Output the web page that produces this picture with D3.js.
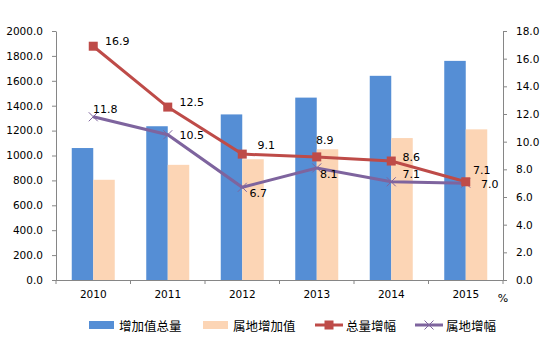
<!DOCTYPE html>
<html><head><meta charset="utf-8">
<script src="https://cdn.jsdelivr.net/npm/d3@7"></script>
<style>
html,body{margin:0;padding:0;background:#fff;}
svg{display:block;}
</style></head>
<body>
<script>
const years = ["2010","2011","2012","2013","2014","2015"];
const totalValue = [1060, 1235, 1330, 1465, 1640, 1760];
const localValue = [805, 925, 970, 1050, 1140, 1210];
const totalGrowth = [16.9, 12.5, 9.1, 8.9, 8.6, 7.1];
const localGrowth = [11.8, 10.5, 6.7, 8.1, 7.1, 7.0];
const leftTicks = [0,200,400,600,800,1000,1200,1400,1600,1800,2000];
const rightTicks = [0,2,4,6,8,10,12,14,16,18];
const seriesNames = ["增加值总量","属地增加值","总量增幅","属地增幅"];
// label offsets (layout only)
const totalLabelOff = [[24,-5],[24,-5],[24,-9],[8,-16],[20,-4],[16,-11]];
const localLabelOff = [[12,-7],[24,1],[16,6],[12,7],[20,-7],[24,1]];

const W=554,H=346;
const m={l:56,r:51,t:31,b:66};
const x0=m.l, x1=W-m.r, y0=m.t, y1=H-m.b;
const blue="#558ED5", peach="#FCD5B5", red="#BE4B48", purple="#7E649E", axisC="#868686";
const font="DejaVu Sans, Verdana, sans-serif";
const cjk="'Noto Sans CJK SC', sans-serif";

const svg=d3.select("body").append("svg").attr("width",W).attr("height",H);
const x=d3.scaleBand().domain(years).range([x0,x1]).paddingInner(0).paddingOuter(0);
const yL=d3.scaleLinear().domain([0,2000]).range([y1,y0]);
const yR=d3.scaleLinear().domain([0,18]).range([y1,y0]);
const bw=21.5;

// bars
svg.append("g").selectAll("rect").data(years).join("rect")
  .attr("x",d=>x(d)+x.bandwidth()/2-bw).attr("width",bw)
  .attr("y",(d,i)=>yL(totalValue[i])).attr("height",(d,i)=>y1-yL(totalValue[i]))
  .attr("fill",blue);
svg.append("g").selectAll("rect").data(years).join("rect")
  .attr("x",d=>x(d)+x.bandwidth()/2).attr("width",bw)
  .attr("y",(d,i)=>yL(localValue[i])).attr("height",(d,i)=>y1-yL(localValue[i]))
  .attr("fill",peach);

// axes
const gL=svg.append("g").attr("transform",`translate(${x0},0)`)
  .call(d3.axisLeft(yL).tickValues(leftTicks).tickFormat(d3.format(".1f")).tickSize(4).tickSizeOuter(0).tickPadding(9));
const gR=svg.append("g").attr("transform",`translate(${x1},0)`)
  .call(d3.axisRight(yR).tickValues(rightTicks).tickFormat(d3.format(".1f")).tickSize(4).tickSizeOuter(0).tickPadding(9));
const gX=svg.append("g").attr("transform",`translate(0,${y1})`)
  .call(d3.axisBottom(x).tickSize(0).tickPadding(11));
// category boundary ticks
svg.append("g").selectAll("line").data(d3.range(years.length+1)).join("line")
  .attr("x1",i=>x0+i*x.step()).attr("x2",i=>x0+i*x.step())
  .attr("y1",y1).attr("y2",y1+4).attr("stroke",axisC);
[gL,gR,gX].forEach(g=>{
  g.selectAll("path,line").attr("stroke",axisC);
  g.selectAll("text").attr("font-family",font).attr("font-size","10.5px").attr("fill","#000");
});
gX.select(".domain").attr("d",`M${x0},0.5H${x1}`);
svg.append("text").attr("x",x1).attr("y",y1+22).attr("text-anchor","middle")
  .attr("font-family",font).attr("font-size","11px").text("%");

// lines
const cx=(d,i)=>x(years[i])+x.bandwidth()/2;
const lineT=d3.line().x(cx).y(d=>yR(d));
svg.append("path").datum(totalGrowth).attr("d",lineT).attr("fill","none").attr("stroke",red).attr("stroke-width",3);
svg.append("path").datum(localGrowth).attr("d",lineT).attr("fill","none").attr("stroke",purple).attr("stroke-width",3);
// purple x markers
svg.append("g").selectAll("path").data(localGrowth).join("path")
  .attr("d",(d,i)=>{const a=cx(d,i),b=yR(d),s=4.5;return `M${a-s},${b-s}L${a+s},${b+s}M${a-s},${b+s}L${a+s},${b-s}`;})
  .attr("stroke",purple).attr("stroke-width",1);
// red square markers
svg.append("g").selectAll("rect").data(totalGrowth).join("rect")
  .attr("x",(d,i)=>cx(d,i)-4.5).attr("y",d=>yR(d)-4.5).attr("width",9).attr("height",9)
  .attr("fill",red);

// labels
svg.append("g").selectAll("text").data(totalGrowth).join("text")
  .attr("x",(d,i)=>cx(d,i)+totalLabelOff[i][0]).attr("y",(d,i)=>yR(d)+totalLabelOff[i][1])
  .attr("text-anchor","middle").attr("dominant-baseline","central")
  .attr("font-family",font).attr("font-size","11px").text(d=>d.toFixed(1));
svg.append("g").selectAll("text").data(localGrowth).join("text")
  .attr("x",(d,i)=>cx(d,i)+localLabelOff[i][0]).attr("y",(d,i)=>yR(d)+localLabelOff[i][1])
  .attr("text-anchor","middle").attr("dominant-baseline","central")
  .attr("font-family",font).attr("font-size","11px").text(d=>d.toFixed(1));

// legend
const ly=325;
const lg=svg.append("g");
const items=[{x:89,type:"bar",c:blue},{x:203,type:"bar",c:peach},{x:315,type:"sq",c:red},{x:415,type:"x",c:purple}];
items.forEach((it,i)=>{
  if(it.type==="bar"){
    lg.append("rect").attr("x",it.x).attr("y",ly-4).attr("width",25).attr("height",8).attr("fill",it.c);
  } else {
    lg.append("line").attr("x1",it.x).attr("x2",it.x+28).attr("y1",ly).attr("y2",ly).attr("stroke",it.c).attr("stroke-width",3);
    const m=it.x+14;
    if(it.type==="sq") lg.append("rect").attr("x",m-4.5).attr("y",ly-4.5).attr("width",9).attr("height",9).attr("fill",it.c);
    else lg.append("path").attr("d",`M${m-4.5},${ly-4.5}L${m+4.5},${ly+4.5}M${m-4.5},${ly+4.5}L${m+4.5},${ly-4.5}`).attr("stroke",it.c).attr("stroke-width",1);
  }
  lg.append("text").attr("x",it.x+(it.type==="bar"?30:31)).attr("y",ly).attr("dominant-baseline","central")
    .attr("font-family",cjk).attr("font-size","12.5px").text(seriesNames[i]);
});
</script>
</body></html>
